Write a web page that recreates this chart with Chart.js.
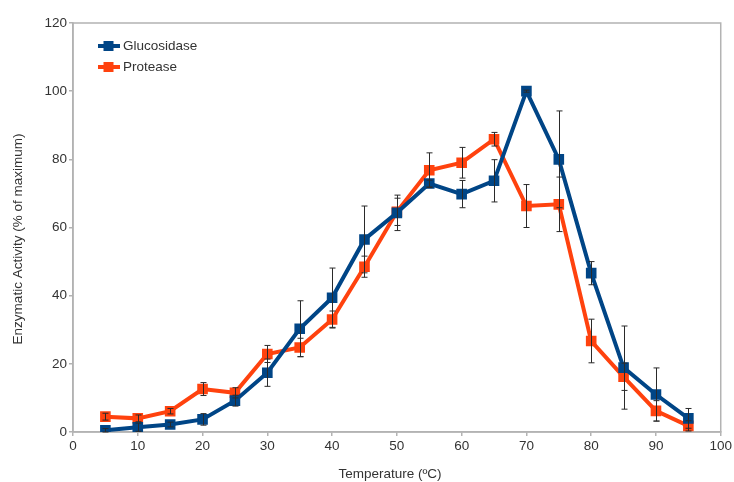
<!DOCTYPE html>
<html>
<head>
<meta charset="utf-8">
<script src="https://cdn.jsdelivr.net/npm/chart.js@4.4.1/dist/chart.umd.min.js"></script>
<style>
  html, body { margin: 0; padding: 0; background: #fff; }
  #wrap { width: 734px; height: 482px; }
</style>
</head>
<body>
<div id="wrap"><canvas id="c"></canvas></div>
<script>
// Temperature profile: relative enzymatic activity of two enzymes, mean ± SD.
const temps = [5, 10, 15, 20, 25, 30, 35, 40, 45, 50, 55, 60, 65, 70, 75, 80, 85, 90, 95];

const glucosidase    = [0.5, 1.4, 2.2, 3.7, 9.2, 17.4, 30.3, 39.4, 56.5, 64.3, 72.9, 69.8, 73.7, 100, 80, 46.6, 18.9, 11.0, 4.0];
const glucosidaseErr = [0.5, 1.2, 0.7, 1.7, 1.6, 4.0, 8.2, 8.7, 9.8, 5.2, 1.0, 4.0, 6.2, 0.3, 14.2, 3.4, 12.2, 7.8, 2.9];

const protease    = [4.5, 4.0, 6.1, 12.6, 11.5, 22.9, 24.8, 33.0, 48.5, 64.6, 76.8, 79.0, 85.9, 66.3, 66.8, 26.7, 16.2, 6.2, 1.8];
const proteaseErr = [1.0, 1.0, 0.8, 1.9, 1.5, 2.5, 2.7, 2.5, 3.1, 4.0, 5.1, 4.5, 2.0, 6.3, 8.0, 6.4, 4.0, 3.0, 1.5];

const FONT = "'Liberation Sans', Arial, sans-serif";
const AXIS = "#b3b3b3";
const TEXT = "#333333";

function points(ys) { return temps.map((t, i) => ({ x: t, y: ys[i] })); }

// vertical error bars with small caps, drawn on top of the lines
const errorBars = {
  id: "errorBars",
  afterDatasetsDraw(chart) {
    const { ctx, scales: { x, y } } = chart;
    ctx.save();
    ctx.strokeStyle = "#2a2a2a";
    ctx.lineWidth = 1;
    chart.data.datasets.forEach((ds) => {
      ds.data.forEach((p, i) => {
        const e = ds.errors[i];
        const px = Math.round(x.getPixelForValue(p.x)) + 0.5;
        const top = y.getPixelForValue(p.y + e);
        const bot = y.getPixelForValue(Math.max(p.y - e, 0));
        ctx.beginPath();
        ctx.moveTo(px, top); ctx.lineTo(px, bot);
        ctx.moveTo(px - 3, top); ctx.lineTo(px + 3, top);
        ctx.moveTo(px - 3, bot); ctx.lineTo(px + 3, bot);
        ctx.stroke();
      });
    });
    ctx.restore();
  }
};

// box frame, in-plot legend and axis titles
const decor = {
  id: "decor",
  beforeDatasetsDraw(chart) {
    const { ctx, chartArea: a } = chart;
    ctx.save();
    ctx.strokeStyle = AXIS;
    ctx.lineWidth = 1.5;
    ctx.strokeRect(a.left, a.top, a.right - a.left, a.bottom - a.top);
    ctx.restore();
  },
  afterDraw(chart) {
    const { ctx } = chart;
    ctx.save();
    ctx.font = "13.5px " + FONT;
    ctx.fillStyle = TEXT;
    ctx.textBaseline = "middle";
    chart.data.datasets.forEach((ds, i) => {
      const cy = 46 + i * 21;
      ctx.strokeStyle = ds.borderColor;
      ctx.lineWidth = 4;
      ctx.beginPath(); ctx.moveTo(98, cy); ctx.lineTo(120, cy); ctx.stroke();
      ctx.fillStyle = ds.borderColor;
      ctx.fillRect(103.5, cy - 5, 10, 10);
      ctx.fillStyle = TEXT;
      ctx.textAlign = "left";
      ctx.fillText(ds.label, 123, cy);
    });
    ctx.textAlign = "center";
    ctx.fillText("Temperature (ºC)", 390, 474);
    ctx.translate(18, 239);
    ctx.rotate(-Math.PI / 2);
    ctx.fillText("Enzymatic Activity (% of maximum)", 0, 0);
    ctx.restore();
  }
};

const series = (label, ys, errs, color) => ({
  label,
  data: points(ys),
  errors: errs,
  borderColor: color,
  backgroundColor: color,
  borderWidth: 4,
  pointStyle: "rect",
  pointRadius: 7.5,
  pointHoverRadius: 7.5,
  pointBorderWidth: 0,
  tension: 0,
  fill: false,
});

new Chart(document.getElementById("c"), {
  type: "line",
  data: {
    datasets: [
      series("Glucosidase", glucosidase, glucosidaseErr, "#004586"),
      series("Protease", protease, proteaseErr, "#ff420e"),
    ],
  },
  options: {
    responsive: true,
    maintainAspectRatio: false,
    animation: false,
    layout: { padding: { top: 23, right: 13, left: 0, bottom: 0 } },
    plugins: { legend: { display: false }, tooltip: { enabled: false } },
    scales: {
      x: {
        type: "linear",
        min: 0, max: 100,
        ticks: { stepSize: 10, color: TEXT, font: { family: FONT, size: 13.5 }, padding: 2 },
        grid: { drawOnChartArea: false, drawTicks: true, tickLength: 4, color: AXIS, lineWidth: 1.5 },
        border: { color: AXIS, width: 1.5 },
        afterFit(s) { s.height = 50; },
      },
      y: {
        min: 0, max: 120,
        ticks: { stepSize: 20, color: TEXT, font: { family: FONT, size: 13.5 }, padding: 2 },
        grid: { drawOnChartArea: false, drawTicks: true, tickLength: 4, color: AXIS, lineWidth: 1.5 },
        border: { color: AXIS, width: 1.5 },
        afterFit(s) { s.width = 73; },
      },
    },
  },
  plugins: [errorBars, decor],
});
</script>
</body>
</html>
